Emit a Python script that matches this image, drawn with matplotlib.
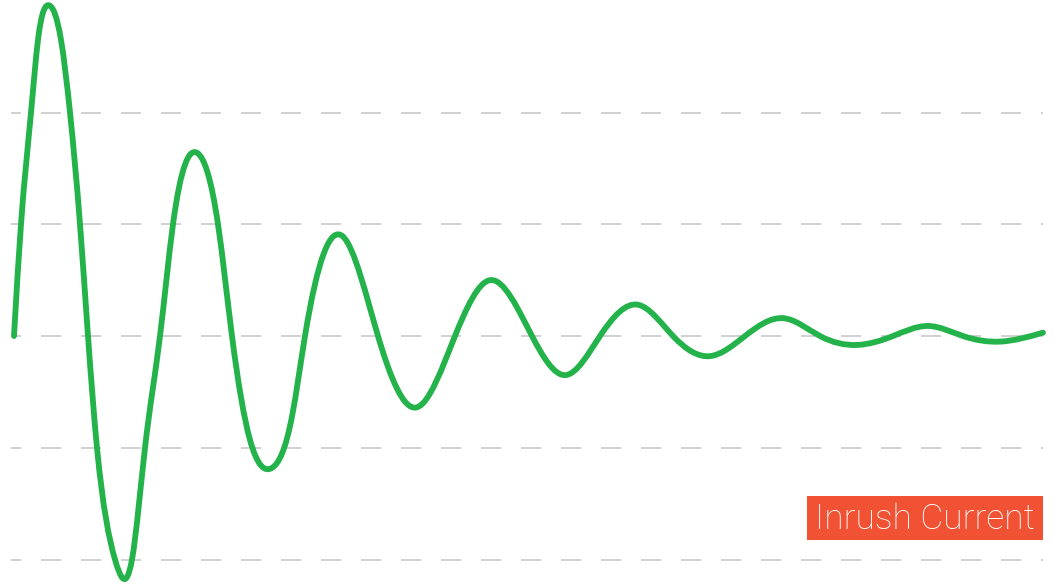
import matplotlib
matplotlib.use("Agg")
import matplotlib.pyplot as plt
import numpy as np
from matplotlib.path import Path
from matplotlib.patches import PathPatch, Rectangle

# time (ms) and current (A)
time_ms = [0.0, 0.7, 1.7, 2.4, 3.5, 4.7, 5.6, 6.6, 7.4, 8.3,
           10.1, 10.9, 11.8, 13.1, 14.6, 15.9, 18.3, 20.4, 21.8, 23.6,
           25.8, 27.8, 29.1, 32.9, 36.4, 40.2, 44.1, 47.6, 51.8, 55.1,
           58.6, 62.4, 65.9, 69.6, 73.1, 76.9, 80.6, 84.3, 87.9, 91.4,
           94.9, 98.6, 102.9]
current = [0.0, 1.00, 2.00, 2.65, 2.96, 2.65, 2.00, 1.00, 0.0, -1.00,
           -2.00, -2.17, -2.00, -1.00, 0.0, 1.00, 1.64, 1.00, 0.0, -0.93,
           -1.18, -0.72, 0.0, 0.89, 0.0, -0.64, 0.0, 0.50, 0.0, -0.35,
           0.0, 0.28, 0.0, -0.18, 0.0, 0.16, 0.0, -0.08, 0.0, 0.09,
           0.0, -0.05, 0.03]
grid_levels = [-2, -1, 0, 1, 2]
label = "Inrush Current"

plt.rcParams['lines.scale_dashes'] = False

fig = plt.figure(figsize=(10.53, 5.86), dpi=100)
ax = fig.add_axes([0, 0, 1, 1])
ax.set_xlim(-1.4, 103.9)
ax.set_ylim(-2.237, 3.007)
ax.axis("off")

# dashed horizontal guides
ax.hlines(grid_levels, -0.3, 102.9, colors="#c4c4c4", linewidth=1.1,
          linestyles=[(7.2, (14.4, 14.4))], zorder=1)


# smooth curve through the points: natural cubic spline as bezier segments
def smooth_path(xs, ys):
    x = np.asarray(xs, float)
    y = np.asarray(ys, float)
    n = len(x)
    h = np.diff(x)
    A = np.zeros((n, n))
    r = np.zeros(n)
    A[0, 0] = A[-1, -1] = 1
    for i in range(1, n - 1):
        A[i, i - 1] = h[i - 1]
        A[i, i] = 2 * (h[i - 1] + h[i])
        A[i, i + 1] = h[i]
        r[i] = 3 * ((y[i + 1] - y[i]) / h[i] - (y[i] - y[i - 1]) / h[i - 1])
    c = np.linalg.solve(A, r)
    b = (y[1:] - y[:-1]) / h - h * (2 * c[:-1] + c[1:]) / 3
    # slope at each node
    m = np.append(b, b[-1] + 2 * c[-2] * h[-1] + (c[-1] - c[-2]) * h[-1])
    verts = [(x[0], y[0])]
    codes = [Path.MOVETO]
    for i in range(n - 1):
        t = h[i] / 3
        verts += [(x[i] + t, y[i] + m[i] * t),
                  (x[i + 1] - t, y[i + 1] - m[i + 1] * t),
                  (x[i + 1], y[i + 1])]
        codes += [Path.CURVE4] * 3
    return Path(verts, codes)


ax.add_patch(PathPatch(smooth_path(time_ms, current), facecolor="none",
                       edgecolor="#24b34b", linewidth=4.2,
                       capstyle="round", joinstyle="round", zorder=3))

# label badge
fig.patches.append(Rectangle((807 / 1053, 1 - 540 / 586), 236 / 1053, 44 / 586,
                             transform=fig.transFigure, facecolor="#f15234",
                             edgecolor="none", zorder=5))
fig.text(925 / 1053, 1 - 519 / 586, label, color="white", fontsize=25.5,
         family="Roboto", fontweight="light", ha="center", va="center",
         zorder=6)

fig.savefig("out.png", dpi=100)
